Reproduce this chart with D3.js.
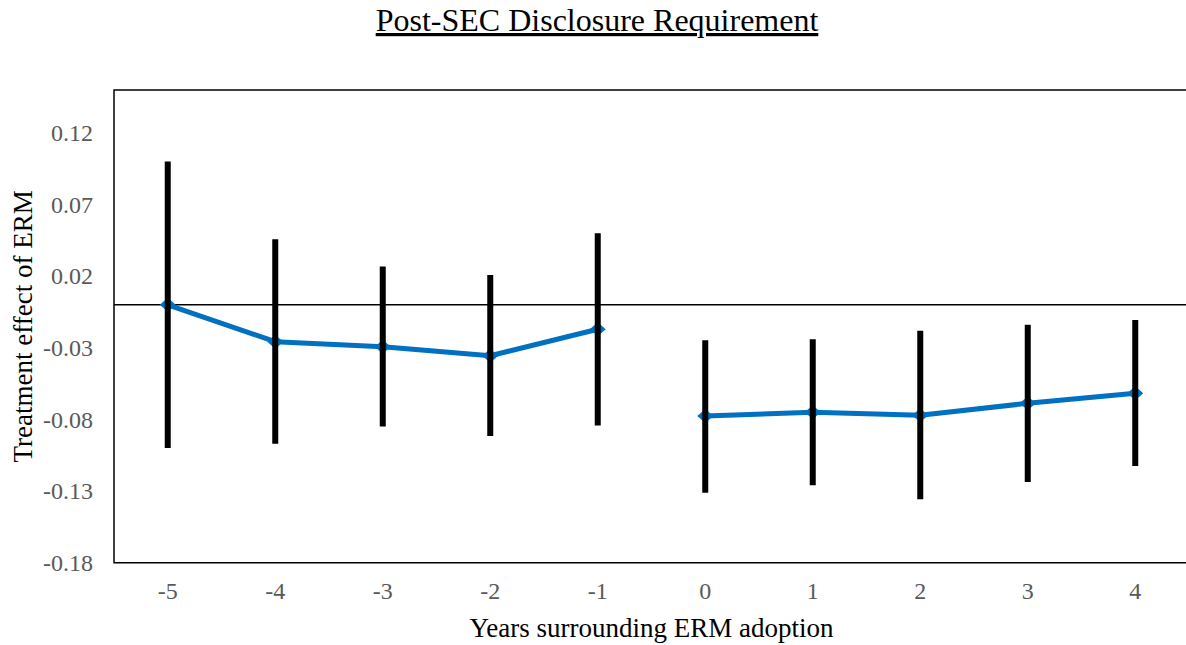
<!DOCTYPE html>
<html>
<head>
<meta charset="utf-8">
<script src="https://cdn.jsdelivr.net/npm/d3@7"></script>
<style>
  body { margin: 0; background: #fff; }
  text { font-family: "Liberation Serif", "Times New Roman", serif; }
</style>
</head>
<body>
<svg width="1186" height="645"></svg>
<script>
// data
const years = [-5, -4, -3, -2, -1, 0, 1, 2, 3, 4];
const period = ["pre", "pre", "pre", "pre", "pre", "post", "post", "post", "post", "post"];
const effect = [0.000, -0.0257, -0.0292, -0.0355, -0.0170, -0.0776, -0.0750, -0.0771, -0.0687, -0.0617];
const upper = [0.100, 0.0458, 0.0267, 0.0209, 0.0500, -0.0247, -0.0240, -0.0180, -0.0138, -0.0105];
const lower = [-0.100, -0.0969, -0.0850, -0.0915, -0.0843, -0.1311, -0.1259, -0.1357, -0.1236, -0.1125];
const yTicks = [-0.18, -0.13, -0.08, -0.03, 0.02, 0.07, 0.12];

const svg = d3.select("svg"),
	plotL = 114, plotR = 1189, plotT = 90, plotB = 562.7;

const x = d3.scaleBand()
	.domain(years)
	.range([plotL, plotR]);

const y = d3.scaleLinear()
	.domain([-0.18, 0.15])
	.range([plotB, plotT]);

const cx = d => x(d) + x.bandwidth() / 2;

const rows = years.map((yr, i) => ({ yr: yr, period: period[i], v: effect[i], hi: upper[i], lo: lower[i] }));

// title
svg.append("text")
	.attr("x", 597).attr("y", 31)
	.attr("text-anchor", "middle")
	.style("font-size", "32px")
	.style("text-decoration", "underline")
	.text("Post-SEC Disclosure Requirement");

// frame (right side is cut off by the picture)
svg.append("path")
	.attr("d", `M${plotR},${plotT}H${plotL}V${plotB}H${plotR}`)
	.attr("fill", "none")
	.attr("stroke", "#000")
	.attr("stroke-width", 1.5);

// zero line
svg.append("line")
	.attr("x1", plotL).attr("x2", plotR)
	.attr("y1", y(0)).attr("y2", y(0))
	.attr("stroke", "#000")
	.attr("stroke-width", 1.5);

const fmt = d => d3.format(".2f")(d).replace("−", "-");

// y axis labels
const yAxis = svg.append("g")
	.attr("transform", `translate(${plotL},0)`)
	.call(d3.axisLeft(y).tickValues(yTicks).tickSize(0).tickPadding(21).tickFormat(fmt));
yAxis.select(".domain").remove();
yAxis.selectAll("text")
	.style("font-size", "24px")
	.attr("fill", "#595959")
	.style("font-family", "Liberation Serif, serif");

// x axis labels
const xAxis = svg.append("g")
	.attr("transform", `translate(0,${plotB})`)
	.call(d3.axisBottom(x).tickSize(0).tickPadding(19).tickFormat(d => String(d)));
xAxis.select(".domain").remove();
xAxis.selectAll("text")
	.style("font-size", "24px")
	.attr("fill", "#595959")
	.style("font-family", "Liberation Serif, serif");

// axis titles
svg.append("text")
	.attr("x", (plotL + plotR) / 2).attr("y", 637)
	.attr("text-anchor", "middle")
	.style("font-size", "27px")
	.text("Years surrounding ERM adoption");

svg.append("text")
	.attr("transform", `translate(32,${(plotT + plotB) / 2}) rotate(-90)`)
	.attr("text-anchor", "middle")
	.style("font-size", "27px")
	.text("Treatment effect of ERM");

// line of estimates, broken between the pre and post periods
const line = d3.line()
	.x(d => cx(d.yr))
	.y(d => y(d.v));

svg.selectAll("path.series")
	.data(d3.groups(rows, d => d.period))
	.enter().append("path")
	.attr("class", "series")
	.attr("d", d => line(d[1]))
	.attr("fill", "none")
	.attr("stroke", "#0070C0")
	.attr("stroke-width", 5)
	.attr("stroke-linejoin", "round");

// diamonds
svg.selectAll("path.marker")
	.data(rows)
	.enter().append("path")
	.attr("class", "marker")
	.attr("d", "M0,-7L8,0L0,7L-8,0Z")
	.attr("transform", d => `translate(${cx(d.yr)},${y(d.v)})`)
	.attr("fill", "#0070C0");

// confidence bars
svg.selectAll("line.err")
	.data(rows)
	.enter().append("line")
	.attr("class", "err")
	.attr("x1", d => cx(d.yr)).attr("x2", d => cx(d.yr))
	.attr("y1", d => y(d.hi))
	.attr("y2", d => y(d.lo))
	.attr("stroke", "#000")
	.attr("stroke-width", 6);
</script>
</body>
</html>
